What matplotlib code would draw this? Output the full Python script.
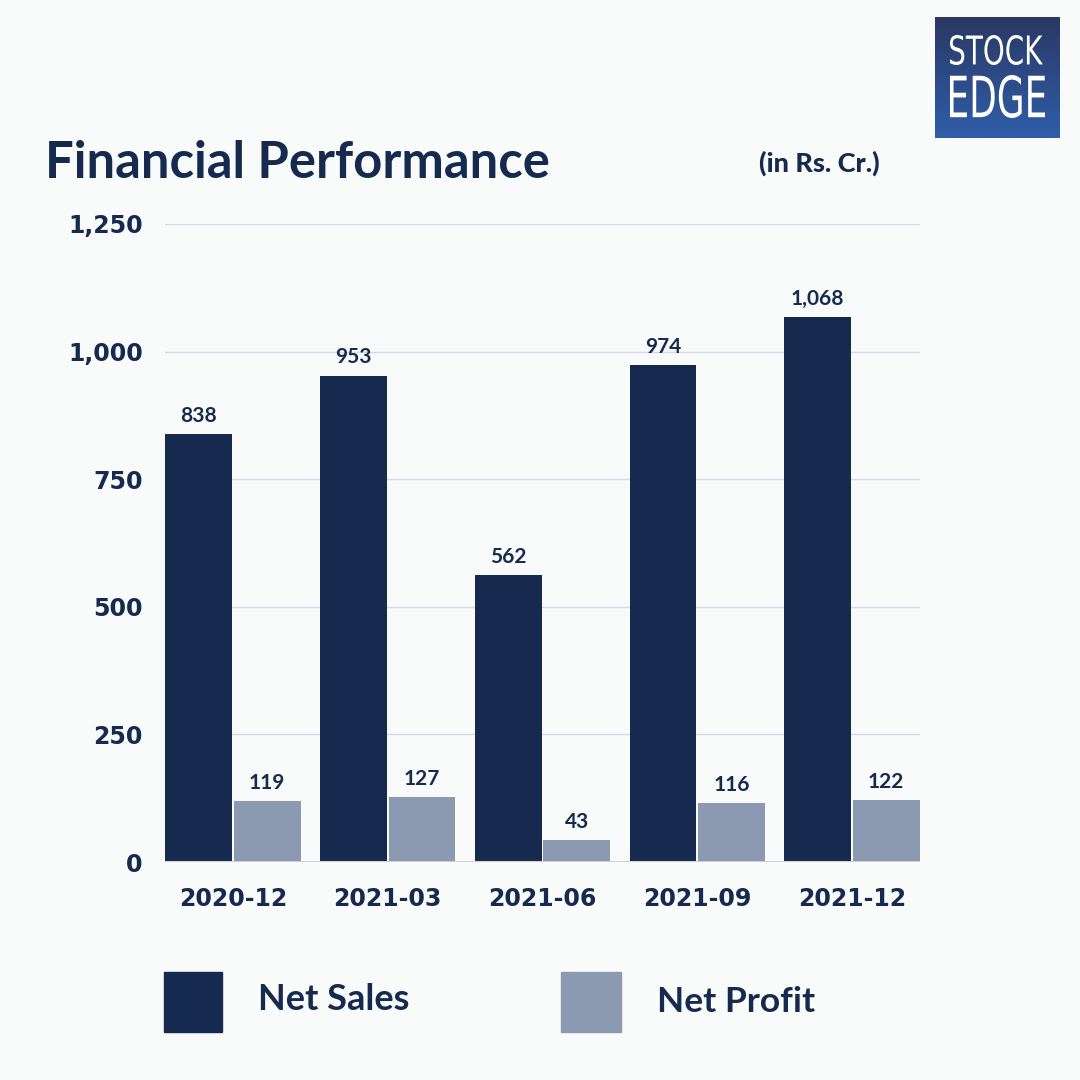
import numpy as np
import matplotlib.pyplot as plt
from matplotlib.patches import Rectangle, PathPatch
from matplotlib.colors import LinearSegmentedColormap
from matplotlib.textpath import TextPath
from matplotlib.font_manager import FontProperties
from matplotlib.transforms import Affine2D

quarters = ["2020-12", "2021-03", "2021-06", "2021-09", "2021-12"]
net_sales = [838, 953, 562, 974, 1068]
net_profit = [119, 127, 43, 116, 122]
yticks = [0, 250, 500, 750, 1000, 1250]

navy = "#16294F"
grey = "#8C9AB1"
bg = "#F9FBFB"
W = 1080

plt.rcParams["font.family"] = ["Lato", "DejaVu Sans"]

fig = plt.figure(figsize=(10.8, 10.8), dpi=100, facecolor=bg)

# chart area
ax = fig.add_axes([165 / W, 218 / W, 755 / W, 638 / W])
ax.set_facecolor(bg)
x = np.arange(len(quarters))
bw = 0.432
ax.bar(x - bw / 2 - 0.005, net_sales, width=bw, color=navy, zorder=3)
ax.bar(x + bw / 2 + 0.005, net_profit, width=bw, color=grey, zorder=3)
for xi, v in zip(x, net_sales):
    ax.text(xi - bw / 2 - 0.005, v + 16, f"{v:,}", ha="center", va="bottom",
            fontsize=15, fontweight="bold", color=navy)
for xi, v in zip(x, net_profit):
    ax.text(xi + bw / 2 + 0.005, v + 16, f"{v:,}", ha="center", va="bottom",
            fontsize=15, fontweight="bold", color=navy)

ax.set_xlim(-0.44, 4.44)
ax.set_ylim(0, 1250)
ax.set_yticks(yticks)
ax.set_yticklabels([f"{t:,}" for t in yticks])
ax.set_xticks(x)
ax.set_xticklabels(quarters)
ax.grid(axis="y", color="#D5D9E3", lw=1, zorder=0)
for s in ax.spines.values():
    s.set_visible(False)
ax.tick_params(length=0, labelcolor=navy, labelsize=17)
ax.tick_params(axis="y", pad=16)
ax.tick_params(axis="x", pad=18)
for lab in ax.get_xticklabels() + ax.get_yticklabels():
    lab.set_family(["DejaVu Sans"])
    lab.set_fontweight("bold")
ax.axhline(0, color="#C9CEDA", lw=1.5, zorder=4)

# title
fig.text(45 / W, 1 - 163 / W, "Financial Performance", fontsize=36.5, fontweight="bold",
         color=navy, va="center", ha="left")
fig.text(880 / W, 1 - 163 / W, "(in Rs. Cr.)", fontsize=19.5, fontweight="black",
         color=navy, va="center", ha="right")

# legend
fig.patches.append(Rectangle((164 / W, 1 - 1032 / W), 58 / W, 60 / W,
                             transform=fig.transFigure, color=navy))
fig.patches.append(Rectangle((561 / W, 1 - 1032 / W), 60 / W, 60 / W,
                             transform=fig.transFigure, color=grey))
fig.text(258 / W, 1 - 1000 / W, "Net Sales", fontsize=26, fontweight="bold",
         color=navy, va="center", ha="left")
fig.text(657 / W, 1 - 1002 / W, "Net Profit", fontsize=25.5, fontweight="bold",
         color=navy, va="center", ha="left")

# logo (pixel units inside a 125x121 box)
lax = fig.add_axes([935 / W, 1 - 138 / W, 125 / W, 121 / W])
grad = np.linspace(0, 1, 100).reshape(-1, 1)
cmap = LinearSegmentedColormap.from_list("lg", ["#2B3864", "#2F5EA9"])
lax.imshow(grad, cmap=cmap, aspect="auto", extent=[0, 125, 0, 121])
lax.set_xlim(0, 125)
lax.set_ylim(0, 121)
lax.axis("off")
fp = FontProperties(family="DejaVu Sans", weight="normal")


def logo_word(word, x0, x1, y0, y1):
    tp = TextPath((0, 0), word, size=100, prop=fp)
    bb = tp.get_extents()
    tr = (Affine2D().translate(-bb.x0, -bb.y0)
          .scale((x1 - x0) / bb.width, (y1 - y0) / bb.height)
          .translate(x0, y0))
    lax.add_patch(PathPatch(tr.transform_path(tp), color="white", lw=0))


logo_word("STOCK", 15, 108, 121 - 48, 121 - 18)
logo_word("EDGE", 15, 110, 121 - 101, 121 - 58)

fig.savefig("out.png", dpi=100, facecolor=bg)
